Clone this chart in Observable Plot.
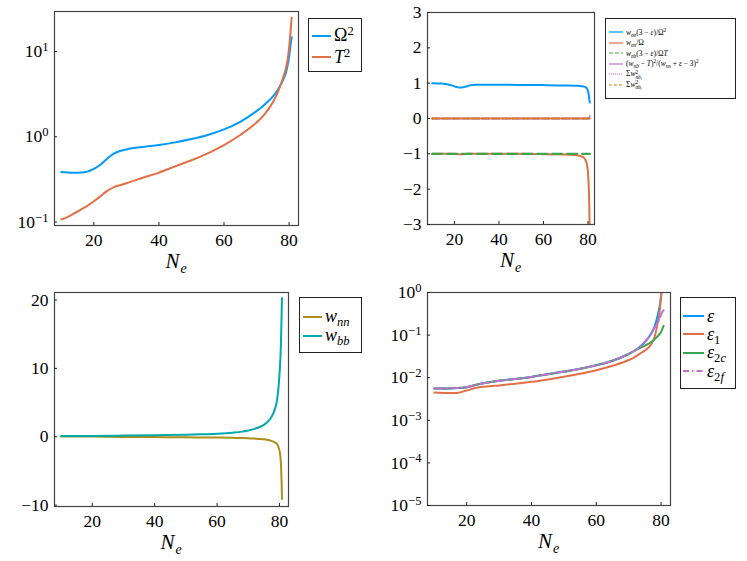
<!DOCTYPE html>
<html><head><meta charset="utf-8">
<script src="https://cdn.jsdelivr.net/npm/d3@7"></script>
<script src="https://cdn.jsdelivr.net/npm/@observablehq/plot@0.6"></script>
<style>
body{margin:0;background:#fff;}
#root{position:relative;width:747px;height:561px;overflow:hidden;font-family:"Liberation Serif","DejaVu Serif",serif;color:#000;}
.panel{position:absolute;}
.lab{position:absolute;font-style:italic;font-size:21px;text-align:center;line-height:20px;height:20px;}
.lab sub{font-size:14px;vertical-align:baseline;position:relative;top:5px;margin-left:1px;line-height:0;}
.leg{position:absolute;border:1.3px solid #222;background:#fff;box-sizing:border-box;}
.row{display:flex;align-items:center;white-space:nowrap;}
.row svg{flex:none;}
.leg sub{font-size:0.7em;vertical-align:-0.35em;line-height:0;}
.leg sup{font-size:0.7em;vertical-align:0.5em;line-height:0;}
.ss{display:inline-flex;flex-direction:column;font-size:0.7em;line-height:0.9;vertical-align:middle;}
.ss sub{font-size:0.75em;vertical-align:-0.2em;}
</style></head><body><div id="root"></div>
<script>
// ---------- data ----------
const xTicks = [20, 40, 60, 80];
const y1Ticks = [0.1, 1, 10];
const y2Ticks = [-3, -2, -1, 0, 1, 2, 3];
const y3Ticks = [-10, 0, 10, 20];
const y4Ticks = [1e-5, 1e-4, 1e-3, 1e-2, 1e-1, 1];

const x1 = [10, 12, 14, 16, 18, 20, 22, 24, 26, 28, 30, 35, 40, 45, 50, 55, 60, 65, 70, 72, 74, 76, 77, 78, 79, 79.5, 80, 80.4, 80.8];
const omega2 = [0.385, 0.38, 0.378, 0.38, 0.39, 0.42, 0.47, 0.55, 0.63, 0.68, 0.71, 0.76, 0.80, 0.86, 0.94, 1.05, 1.22, 1.5, 2.0, 2.3, 2.7, 3.3, 3.8, 4.5, 5.6, 6.7, 8.6, 11.5, 14.7];
const T2 = [0.107, 0.115, 0.126, 0.14, 0.155, 0.175, 0.2, 0.23, 0.255, 0.27, 0.285, 0.33, 0.38, 0.45, 0.53, 0.64, 0.80, 1.05, 1.47, 1.75, 2.2, 3.0, 3.7, 4.7, 6.3, 7.8, 11, 16, 25];

const x2 = [10, 14, 18, 20, 22, 24, 26, 28, 30, 40, 50, 60, 70, 75, 77, 78, 79, 79.5, 80, 80.3, 80.6, 80.8];
const r_wss = [1.0, 0.99, 0.95, 0.91, 0.88, 0.885, 0.92, 0.945, 0.955, 0.955, 0.95, 0.945, 0.935, 0.925, 0.915, 0.905, 0.88, 0.85, 0.78, 0.68, 0.52, 0.45];
const r_wsn = [-1.0, -1.0, -1.0, -1.0, -1.01, -1.01, -1.0, -1.0, -1.0, -1.0, -1.0, -1.01, -1.02, -1.04, -1.07, -1.1, -1.2, -1.3, -1.55, -1.9, -2.6, -3.5];
const r_wsb = [-1, -1, -1, -1, -1, -1, -1, -1, -1, -1, -1, -1, -1, -1, -1, -1, -1, -1, -1, -1, -1, -1];
const r_nb = [0, 0, 0, 0, 0, 0, 0, 0, 0, 0, 0, 0, 0, 0, 0, 0, 0, 0, 0.01, 0.02, 0.04, 0.07];
const sum_nb = [0, 0, 0, 0, 0, 0, 0, 0, 0, 0, 0, 0, 0, 0, 0, 0, 0, 0, 0, 0, 0, 0];
const sum_sb = [0, 0, 0, 0, 0, 0, 0, 0, 0, 0, 0, 0, 0, 0, 0, 0, 0, 0, 0, 0, 0, 0];

const x3 = [10, 20, 30, 40, 50, 55, 60, 65, 68, 70, 72, 74, 75, 76, 77, 78, 78.5, 79, 79.5, 80, 80.3, 80.5, 80.7, 80.8];
const w_nn = [0.05, 0.02, -0.02, -0.05, -0.08, -0.1, -0.12, -0.16, -0.19, -0.22, -0.27, -0.33, -0.38, -0.45, -0.55, -0.7, -0.82, -0.95, -1.3, -2.0, -2.9, -4.2, -6.8, -9.1];
const w_bb = [0.1, 0.12, 0.17, 0.23, 0.3, 0.36, 0.45, 0.6, 0.75, 0.92, 1.15, 1.5, 1.75, 2.1, 2.6, 3.4, 4.0, 4.8, 6.3, 9.0, 11.5, 14, 18, 20.3];

const x4 = [10, 14, 17, 20, 23, 26, 30, 35, 40, 45, 50, 55, 60, 65, 70, 72, 74, 76, 77, 78, 79, 79.5, 80, 80.3, 80.6, 80.8];
const eps = [0.0056, 0.0056, 0.0057, 0.006, 0.0068, 0.0076, 0.0085, 0.0093, 0.0104, 0.012, 0.0139, 0.0162, 0.0195, 0.025, 0.036, 0.044, 0.058, 0.085, 0.11, 0.16, 0.3, 0.45, 0.8, 1.3, 2.2, 3];
const eps1 = [0.0045, 0.0044, 0.0044, 0.005, 0.0058, 0.0062, 0.0066, 0.0072, 0.008, 0.0091, 0.0105, 0.0124, 0.015, 0.019, 0.026, 0.031, 0.039, 0.05, 0.062, 0.09, 0.2, 0.32, 0.9, 1.6, 2.6, 3];
const eps2c = [0.0056, 0.0056, 0.0057, 0.006, 0.0068, 0.0076, 0.0085, 0.0093, 0.0104, 0.012, 0.0139, 0.0162, 0.0195, 0.025, 0.036, 0.043, 0.052, 0.062, 0.069, 0.08, 0.095, 0.105, 0.12, 0.135, 0.155, 0.165];
const eps2f = [0.0056, 0.0056, 0.0057, 0.006, 0.0068, 0.0076, 0.0085, 0.0093, 0.0104, 0.012, 0.0139, 0.0162, 0.0195, 0.025, 0.036, 0.044, 0.058, 0.085, 0.11, 0.15, 0.2, 0.24, 0.3, 0.34, 0.37, 0.38];

const C = {blue:"#009AFA", orange:"#E36F47", green:"#3EA44E", purple:"#C271D2", gold:"#AC8E18", teal:"#00A9AD", pink:"#ED5E93", brown:"#C68225"};

// ---------- helpers ----------
const root = document.getElementById("root");
const NS = "http://www.w3.org/2000/svg";
const FONT = '"Liberation Serif", "DejaVu Serif", serif';
const rows = (xs, ys) => xs.map((x, i) => ({x, y: ys[i]}));
const minus = (s) => String(s).replace("-", "\u2212");
const xDomain = [7.9, 82.9];

function ln(xs, ys, stroke, extra = {}) {
  return Plot.line(rows(xs, ys), {x: "x", y: "y", stroke, strokeWidth: 2, curve: "monotone-x", clip: true, ...extra});
}

function supTicks(svg) {
  svg.querySelectorAll('g[aria-label="y-axis tick label"] text').forEach(t => {
    const s = t.textContent;
    if (!s.includes("^")) return;
    const [b, e] = s.split("^");
    t.textContent = "";
    const t1 = document.createElementNS(NS, "tspan"); t1.textContent = b;
    const t2 = document.createElementNS(NS, "tspan");
    t2.setAttribute("dy", "-0.48em"); t2.setAttribute("font-size", "0.72em");
    t2.textContent = minus(e);
    t.append(t1, t2);
  });
}

function panel({left, top, mL, mT, frameW, frameH, y, yTicks, yFormat, marks}) {
  const svg = Plot.plot({
    width: mL + frameW + 2, height: 280,
    marginLeft: mL, marginTop: mT, marginRight: 2, marginBottom: 280 - mT - frameH,
    style: {fontFamily: FONT, fontSize: "17.5px", color: "#000", background: "transparent", overflow: "visible"},
    x: {domain: xDomain, label: null},
    y: {...y, label: null},
    marks: [
      ...marks,
      Plot.frame({stroke: "#444", strokeWidth: 1.2}),
      Plot.axisX(xTicks, {tickSize: -3, tickPadding: 11, tickFormat: d => String(d), stroke: "#222", fontFamily: FONT}),
      Plot.axisY(yTicks, {tickSize: -3, tickPadding: 9, tickFormat: yFormat, stroke: "#222", fontFamily: FONT})
    ]
  });
  supTicks(svg);
  const d = document.createElement("div");
  d.className = "panel"; d.style.left = left + "px"; d.style.top = top + "px";
  d.appendChild(svg); root.appendChild(d);
  const lab = document.createElement("div");
  lab.className = "lab";
  lab.style.left = (left + mL) + "px"; lab.style.width = frameW + "px";
  lab.style.top = (top + mT + frameH + 26) + "px";
  lab.innerHTML = "N<sub>e</sub>";
  root.appendChild(lab);
}

function swatch(w, color, dash, sw = 2) {
  return `<svg width="${w}" height="8" style="margin-right:3px"><line x1="0" x2="${w}" y1="4" y2="4" stroke="${color}" stroke-width="${sw}" ${dash ? `stroke-dasharray="${dash}"` : ""}/></svg>`;
}

function legend({left, top, width, height, padTop, padLeft, rowH, fontSize, swW, items}) {
  const d = document.createElement("div");
  d.className = "leg";
  Object.assign(d.style, {left: left + "px", top: top + "px", width: width + "px", height: height + "px",
    paddingTop: padTop + "px", paddingLeft: padLeft + "px", fontSize: fontSize + "px"});
  d.innerHTML = items.map(it => `<div class="row" style="height:${rowH}px">${swatch(swW, it.color, it.dash, it.sw)}<span>${it.label}</span></div>`).join("");
  root.appendChild(d);
}

const logFmt = d => "10^" + Math.round(Math.log10(d));

// ---------- panel 1 ----------
panel({left: 0, top: 0, mL: 54, mT: 11, frameW: 244, frameH: 214,
  y: {type: "log", domain: [0.091, 29.5]}, yTicks: y1Ticks, yFormat: logFmt,
  marks: [ln(x1, omega2, C.blue), ln(x1, T2, C.orange)]});
legend({left: 308, top: 18, width: 54, height: 54, padTop: 6, padLeft: 3, rowH: 21.5, fontSize: 18, swW: 19,
  items: [{color: C.blue, label: "Ω<sup>2</sup>"}, {color: C.orange, label: "<i>T</i><sup>2</sup>"}]});

// ---------- panel 2 ----------
panel({left: 373, top: 0, mL: 54, mT: 12, frameW: 167, frameH: 212,
  y: {domain: [-3, 3]}, yTicks: y2Ticks, yFormat: d => minus(d),
  marks: [
    ln(x2, r_wss, C.blue),
    ln(x2, r_wsn, C.orange),
    ln(x2, r_wsb, C.green, {strokeDasharray: "10,5", strokeWidth: 2.2}),
    ln(x2, r_nb, C.purple, {strokeWidth: 1.6}),
    ln(x2, sum_nb, C.pink, {strokeDasharray: "1.5,2", strokeWidth: 2.2}),
    ln(x2, sum_sb, C.brown, {strokeDasharray: "7,3"})
  ]});
legend({left: 605, top: 18, width: 131, height: 81, padTop: 8, padLeft: 3, rowH: 10.5, fontSize: 7.5, swW: 14,
  items: [
    {color: C.blue, sw: 1.2, label: "<i>w</i><sub><i>σσ</i></sub>(3 − <i>ε</i>)/Ω<sup>2</sup>"},
    {color: C.orange, sw: 1.2, label: "<i>w</i><sub><i>σn</i></sub>/Ω"},
    {color: C.green, sw: 1.2, dash: "4,2", label: "<i>w</i><sub><i>σb</i></sub>(3 − <i>ε</i>)/Ω<i>T</i>"},
    {color: C.purple, sw: 1.2, label: "(<i>w</i><sub><i>nb</i></sub> − <i>T</i>)<sup>2</sup>/(<i>w</i><sub><i>nn</i></sub> + <i>ε</i> − 3)<sup>2</sup>"},
    {color: C.pink, sw: 1.2, dash: "1,1", label: "Σ<i>w</i><span class='ss'><span>2</span><span><i>nb</i><sub><i>i</i></sub></span></span>"},
    {color: C.brown, sw: 1.2, dash: "3,2", label: "Σ<i>w</i><span class='ss'><span>2</span><span><i>σb</i><sub><i>i</i></sub></span></span>"}
  ]});

// ---------- panel 3 ----------
panel({left: 0, top: 280, mL: 54, mT: 12, frameW: 234, frameH: 214,
  y: {domain: [-10.2, 21.1]}, yTicks: y3Ticks, yFormat: d => minus(d),
  marks: [ln(x3, w_nn, C.gold), ln(x3, w_bb, C.teal)]});
legend({left: 299, top: 297, width: 63, height: 56, padTop: 9, padLeft: 3, rowH: 19, fontSize: 18, swW: 19,
  items: [{color: C.gold, label: "<i>w</i><sub><i>nn</i></sub>"}, {color: C.teal, label: "<i>w</i><sub><i>bb</i></sub>"}]});

// ---------- panel 4 ----------
panel({left: 373, top: 280, mL: 54, mT: 12, frameW: 243, frameH: 213,
  y: {type: "log", domain: [1e-5, 1]}, yTicks: y4Ticks, yFormat: logFmt,
  marks: [
    ln(x4, eps, C.blue),
    ln(x4, eps1, C.orange),
    ln(x4, eps2c, C.green),
    ln(x4, eps2f, C.purple, {strokeDasharray: "8,3,1.5,3"})
  ]});
legend({left: 680, top: 297, width: 56, height: 92, padTop: 9, padLeft: 2, rowH: 18.3, fontSize: 18, swW: 21,
  items: [
    {color: C.blue, label: "<i>ε</i>"},
    {color: C.orange, label: "<i>ε</i><sub>1</sub>"},
    {color: C.green, label: "<i>ε</i><sub>2<i>c</i></sub>"},
    {color: C.purple, dash: "6,3,1.5,3", label: "<i>ε</i><sub>2<i>f</i></sub>"}
  ]});
</script></body></html>
